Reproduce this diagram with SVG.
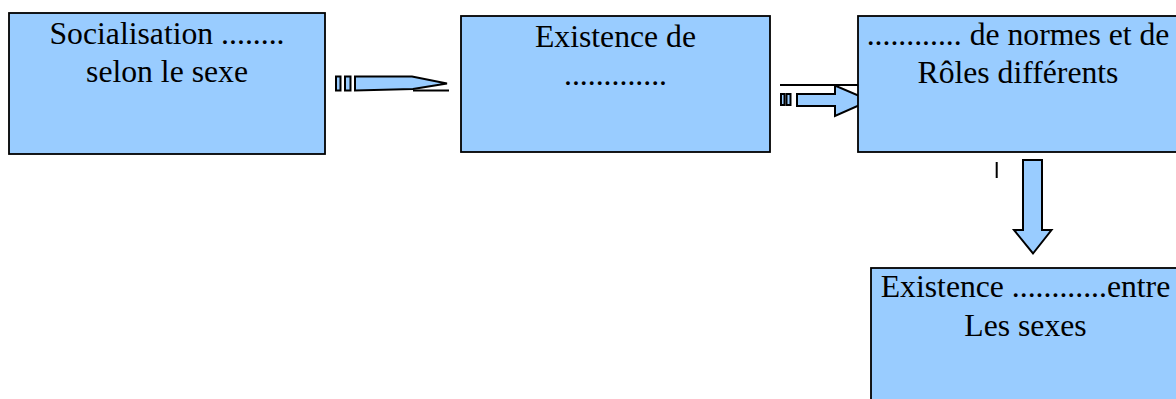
<svg xmlns="http://www.w3.org/2000/svg" width="1176" height="399" viewBox="0 0 1176 399">
<style>
.box{fill:#99ccff;stroke:#000;stroke-width:1.8}
.t{font-family:"Liberation Serif","Times New Roman",serif;font-size:31.7px;fill:#000;text-anchor:middle}
.ar{fill:#99ccff;stroke:#000;stroke-width:2;stroke-linejoin:miter}
.ln{stroke:#000;stroke-width:2;fill:none}
</style>
<rect width="1176" height="399" fill="#fff"/>
<g id="connectors">
<g id="arrow1">
<rect class="ar" x="336" y="76.5" width="4.5" height="14"/>
<rect class="ar" x="345" y="76.5" width="5.5" height="14"/>
<polygon class="ar" points="355,76.5 412,76.5 447,83.5 413,89 355,90.5"/>
<line class="ln" x1="413" y1="90.5" x2="449" y2="90.5"/>
</g>
<g id="arrow2">
<line class="ln" x1="780" y1="85" x2="858" y2="85"/>
<rect class="ar" x="781" y="94" width="3.5" height="11"/>
<rect class="ar" x="786.5" y="94" width="4" height="11"/>
<polygon class="ar" points="797,94 835,94 835,85.5 870,100.5 835,116 835,106 797,106 797,94"/>
</g>
<g id="arrow3">
<polygon class="ar" points="1023,160 1042,160 1042,230 1051.5,230 1033,253.5 1014,230 1023,230"/>
<line class="ln" x1="996.7" y1="162" x2="996.7" y2="178"/>
</g>
</g>
<g id="node1">
<rect class="box" x="9" y="13" width="316" height="141"/>
<text class="t" x="167" y="43.5">Socialisation ........</text>
<text class="t" x="167" y="81.7">selon le sexe</text>
</g>
<g id="node2">
<rect class="box" x="461" y="16" width="309" height="136"/>
<text class="t" x="615.5" y="46.7">Existence de</text>
<text class="t" x="615.5" y="85">.............</text>
</g>
<g id="node3">
<rect class="box" x="858" y="16" width="322" height="136"/>
<text class="t" x="1018" y="45">............ de normes et de</text>
<text class="t" x="1018" y="83.3">Rôles différents</text>
</g>
<g id="node4">
<rect class="box" x="871" y="268" width="310" height="140"/>
<text class="t" x="1025.5" y="296.7">Existence ............entre</text>
<text class="t" x="1025.5" y="336">Les sexes</text>
</g>
</svg>
